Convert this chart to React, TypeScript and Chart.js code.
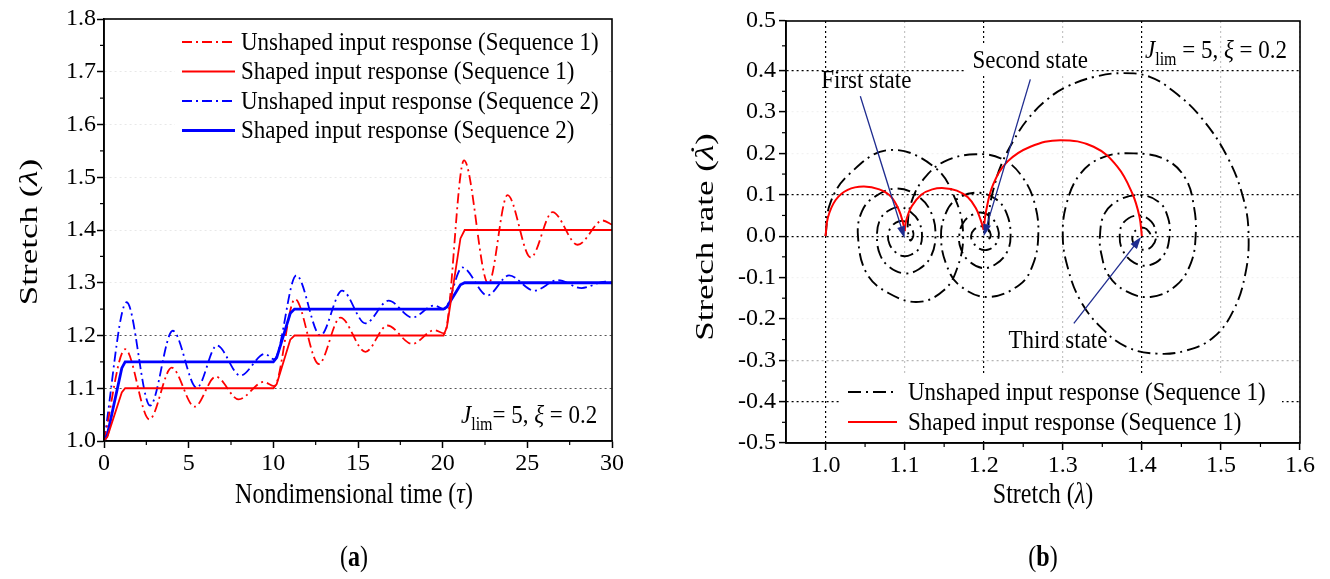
import React, { useEffect, useRef } from "react";
import { Chart, registerables } from "chart.js";

Chart.register(...registerables);

const SERIF = '"Liberation Serif", "Times New Roman", Times, serif';
const RED = "#ff0000";
const BLUE = "#0000ff";
const BLACK = "#000000";
const NAVY = "#1f2c8f";
const DASH_DOT_A = [10, 4, 2, 4];
const DASH_DOT_B = [13, 5, 2, 5];

// ---------------- Panel (a): stretch vs nondimensional time ----------------
const tauTicks = [0, 5, 10, 15, 20, 25, 30];
const stretchTicksA = [1.0, 1.1, 1.2, 1.3, 1.4, 1.5, 1.6, 1.7, 1.8];

const tauUnshaped1 = [0, 1.25, 2.68, 4.0, 5.35, 6.6, 7.95, 9.43, 10.05, 11.28, 12.68, 13.96, 15.44, 16.73, 18.2, 19.5, 20.1, 21.26, 22.7, 23.83, 25.2, 26.49, 27.97, 29.45, 30];
const stretchUnshaped1 = [1.0, 1.174, 1.041, 1.139, 1.065, 1.122, 1.079, 1.112, 1.104, 1.269, 1.146, 1.234, 1.169, 1.219, 1.184, 1.21, 1.204, 1.532, 1.298, 1.466, 1.348, 1.434, 1.372, 1.418, 1.41];

const tauUnshaped2 = [0, 1.34, 2.72, 4.06, 5.48, 6.67, 8.05, 9.5, 10.05, 11.36, 12.78, 14.06, 15.44, 16.8, 18.2, 19.5, 20.08, 21.16, 22.64, 23.92, 25.4, 26.8, 28.2, 29.6, 30];
const stretchUnshaped2 = [1.0, 1.263, 1.067, 1.209, 1.101, 1.181, 1.124, 1.165, 1.155, 1.314, 1.2, 1.285, 1.223, 1.266, 1.234, 1.257, 1.25, 1.329, 1.276, 1.314, 1.285, 1.305, 1.29, 1.302, 1.3];

const tauShaped = [0, 0.2, 1.05, 1.25, 10.0, 10.2, 11.0, 11.25, 20.05, 20.25, 21.05, 21.3, 30];
const stretchShaped1 = [1.0, 1.008, 1.092, 1.1, 1.1, 1.108, 1.192, 1.2, 1.2, 1.216, 1.384, 1.4, 1.4];
const stretchShaped2 = [1.0, 1.012, 1.138, 1.15, 1.15, 1.158, 1.242, 1.25, 1.25, 1.254, 1.296, 1.3, 1.3];

// ---------------- Panel (b): phase portrait (stretch, stretch rate) ----------------
const stretchTicksB = [1.0, 1.1, 1.2, 1.3, 1.4, 1.5, 1.6];
const rateTickValues = [-0.5, -0.4, -0.3, -0.2, -0.1, 0.0, 0.1, 0.2, 0.3, 0.4, 0.52];
const rateTickLabels = ["-0.5", "-0.4", "-0.3", "-0.2", "-0.1", "0.0", "0.1", "0.2", "0.3", "0.4", "0.5"];

const phaseUnshaped: [number, number][] = [
  [1.0, 0.0], [1.006, 0.08], [1.03, 0.15], [1.08, 0.208], [1.137, 0.168], [1.165, 0.085], [1.174, 0.0],
  [1.166, -0.08], [1.15, -0.13], [1.118, -0.159], [1.08, -0.138], [1.052, -0.09], [1.041, 0.0],
  [1.046, 0.06], [1.062, 0.095], [1.09, 0.115], [1.118, 0.095], [1.134, 0.055], [1.139, 0.0],
  [1.133, -0.05], [1.118, -0.08], [1.1, -0.09], [1.081, -0.075], [1.069, -0.045], [1.065, 0.0],
  [1.069, 0.04], [1.08, 0.062], [1.094, 0.07], [1.108, 0.058], [1.118, 0.035], [1.122, 0.0],
  [1.118, -0.03], [1.108, -0.045], [1.098, -0.048], [1.088, -0.038], [1.081, -0.02], [1.079, 0.0],
  [1.083, 0.022], [1.093, 0.036], [1.104, 0.032], [1.11, 0.015], [1.111, 0.0], [1.107, -0.01],
  [1.104, 0.03], [1.11, 0.09], [1.125, 0.14], [1.15, 0.18], [1.19, 0.198], [1.225, 0.185], [1.25, 0.14], [1.265, 0.075], [1.269, 0.0],
  [1.262, -0.07], [1.245, -0.118], [1.205, -0.147], [1.17, -0.12], [1.153, -0.07], [1.146, 0.0],
  [1.152, 0.055], [1.165, 0.088], [1.19, 0.105], [1.215, 0.09], [1.229, 0.055], [1.234, 0.0],
  [1.229, -0.04], [1.215, -0.068], [1.198, -0.077], [1.18, -0.058], [1.171, -0.03], [1.169, 0.0],
  [1.174, 0.032], [1.186, 0.052], [1.2, 0.056], [1.212, 0.04], [1.218, 0.018], [1.219, 0.0],
  [1.215, -0.02], [1.205, -0.033], [1.194, -0.03], [1.187, -0.016], [1.184, 0.0],
  [1.188, 0.016], [1.198, 0.024], [1.206, 0.016], [1.209, 0.003], [1.207, -0.005],
  [1.207, 0.06], [1.214, 0.125], [1.223, 0.176], [1.238, 0.232], [1.255, 0.281], [1.28, 0.33], [1.306, 0.362], [1.34, 0.385], [1.377, 0.394],
  [1.41, 0.385], [1.44, 0.35], [1.474, 0.289], [1.508, 0.192], [1.529, 0.087], [1.535, 0.0], [1.531, -0.09], [1.516, -0.179],
  [1.491, -0.244], [1.457, -0.276], [1.419, -0.284], [1.381, -0.268], [1.348, -0.22], [1.322, -0.155], [1.306, -0.074], [1.3, 0.0],
  [1.305, 0.08], [1.322, 0.15], [1.35, 0.19], [1.39, 0.2], [1.43, 0.185], [1.455, 0.14], [1.466, 0.07], [1.468, 0.0],
  [1.462, -0.065], [1.443, -0.12], [1.411, -0.147], [1.38, -0.133], [1.358, -0.095], [1.349, -0.045], [1.347, 0.0],
  [1.353, 0.055], [1.372, 0.088], [1.398, 0.099], [1.422, 0.082], [1.433, 0.045], [1.435, 0.0],
  [1.428, -0.045], [1.41, -0.07], [1.39, -0.064], [1.376, -0.035], [1.372, 0.0],
  [1.377, 0.033], [1.395, 0.05], [1.412, 0.035], [1.418, 0.0],
  [1.413, -0.024], [1.402, -0.033], [1.391, -0.022], [1.388, 0.0],
  [1.393, 0.015], [1.403, 0.02], [1.41, 0.008], [1.411, 0.0],
];

const phaseShapedArc1: [number, number][] = [
  [1.0, 0.0], [1.003, 0.045], [1.013, 0.088], [1.028, 0.112], [1.048, 0.12], [1.068, 0.113], [1.083, 0.095], [1.093, 0.062], [1.098, 0.032], [1.1, 0.012],
];
const phaseShapedArc2: [number, number][] = [
  [1.1, 0.012], [1.102, 0.038], [1.109, 0.072], [1.121, 0.1], [1.135, 0.113], [1.15, 0.116], [1.166, 0.11], [1.18, 0.094], [1.19, 0.068], [1.196, 0.04], [1.2, 0.015],
];
const phaseShapedArc3: [number, number][] = [
  [1.2, 0.015], [1.203, 0.06], [1.212, 0.125], [1.23, 0.18], [1.259, 0.216], [1.297, 0.232], [1.339, 0.216], [1.369, 0.168], [1.388, 0.103], [1.397, 0.047], [1.4, 0.0],
];

// Annotation arrows (tail -> head) in data coordinates
const stateArrows: { from: [number, number]; to: [number, number] }[] = [
  { from: [1.044, 0.338], to: [1.1, -0.005] },
  { from: [1.259, 0.379], to: [1.2, 0.0] },
  { from: [1.314, -0.211], to: [1.399, -0.002] },
];
const stateLabels: { text: string; at: [number, number] }[] = [
  { text: "First state", at: [0.9946, 0.359] },
  { text: "Second state", at: [1.1857, 0.407] },
  { text: "Third state", at: [1.2313, -0.27] },
];

// ---------------- helpers ----------------
const zip = (xs: number[], ys: number[]) => xs.map((x, i) => ({ x, y: ys[i] }));
const pts = (list: [number, number][]) => list.map(([x, y]) => ({ x, y }));
const near = (a: number, b: number) => Math.abs(a - b) < 1e-6;

type Seg = { t: string; italic?: boolean; bold?: boolean; sub?: boolean; dot?: boolean };

function drawRich(
  ctx: CanvasRenderingContext2D,
  segs: Seg[],
  x: number,
  y: number,
  size: number,
  align: "left" | "center",
  rotate = 0,
  sx = 1,
  sy = 1
) {
  ctx.save();
  ctx.translate(x, y);
  if (rotate) ctx.rotate(rotate);
  ctx.scale(sx, sy);
  ctx.textBaseline = "alphabetic";
  ctx.textAlign = "left";
  ctx.fillStyle = "#000";
  const font = (s: Seg) => `${s.italic ? "italic " : ""}${s.bold ? "bold " : ""}${s.sub ? Math.round(size * 0.68) : size}px ${SERIF}`;
  const widths = segs.map((s) => {
    ctx.font = font(s);
    return ctx.measureText(s.t).width;
  });
  const total = widths.reduce((a, b) => a + b, 0);
  let cx = align === "center" ? -total / 2 : 0;
  segs.forEach((s, i) => {
    ctx.font = font(s);
    ctx.fillText(s.t, cx, s.sub ? size * 0.28 : 0);
    if (s.dot) {
      ctx.font = `${size}px ${SERIF}`;
      ctx.textAlign = "center";
      ctx.fillText("\u02D9", cx + widths[i] / 2 + size * 0.08, -size * 0.2);
      ctx.textAlign = "left";
    }
    cx += widths[i];
  });
  ctx.restore();
}

function drawText(ctx: CanvasRenderingContext2D, text: string, x: number, y: number, size: number, baseline: CanvasTextBaseline, sy = 1) {
  ctx.save();
  ctx.translate(x, y);
  ctx.scale(1, sy);
  ctx.fillStyle = "#000";
  ctx.font = `${size}px ${SERIF}`;
  ctx.textBaseline = baseline;
  ctx.textAlign = "left";
  ctx.fillText(text, 0, 0);
  ctx.restore();
}

function drawFrame(ctx: CanvasRenderingContext2D, a: any) {
  ctx.save();
  ctx.strokeStyle = "#000";
  ctx.lineWidth = 1.6;
  ctx.strokeRect(a.left, a.top, a.right - a.left, a.bottom - a.top);
  ctx.restore();
}

function drawMinorTicks(ctx: CanvasRenderingContext2D, xs: any, ys: any, a: any) {
  const mids = (ticks: any[]) => ticks.slice(1).map((t: any, i: number) => (t.value + ticks[i].value) / 2);
  ctx.save();
  ctx.strokeStyle = "#000";
  ctx.lineWidth = 1.2;
  mids(xs.ticks).forEach((v: number) => {
    const p = xs.getPixelForValue(v);
    ctx.beginPath();
    ctx.moveTo(p, a.bottom);
    ctx.lineTo(p, a.bottom + 4);
    ctx.stroke();
  });
  mids(ys.ticks).forEach((v: number) => {
    const p = ys.getPixelForValue(v);
    ctx.beginPath();
    ctx.moveTo(a.left, p);
    ctx.lineTo(a.left - 4, p);
    ctx.stroke();
  });
  ctx.restore();
}

function drawLegend(ctx: CanvasRenderingContext2D, chart: any, rows: { index: number; y: number; x1: number; x2: number; tx: number }[]) {
  rows.forEach((r) => {
    const ds = chart.data.datasets[r.index];
    ctx.save();
    ctx.strokeStyle = ds.borderColor;
    ctx.lineWidth = ds.borderWidth;
    ctx.setLineDash(ds.borderDash || []);
    ctx.beginPath();
    ctx.moveTo(r.x1, r.y);
    ctx.lineTo(r.x2, r.y);
    ctx.stroke();
    ctx.restore();
    drawText(ctx, ds.label, r.tx, r.y + 1, 23, "middle", 1.12);
  });
}

function drawArrow(ctx: CanvasRenderingContext2D, x1: number, y1: number, x2: number, y2: number) {
  const ang = Math.atan2(y2 - y1, x2 - x1);
  const L = 12;
  const W = 4;
  const c = Math.cos(ang);
  const s = Math.sin(ang);
  ctx.save();
  ctx.strokeStyle = NAVY;
  ctx.fillStyle = NAVY;
  ctx.lineWidth = 1.3;
  ctx.beginPath();
  ctx.moveTo(x1, y1);
  ctx.lineTo(x2 - L * 0.8 * c, y2 - L * 0.8 * s);
  ctx.stroke();
  ctx.beginPath();
  ctx.moveTo(x2, y2);
  ctx.lineTo(x2 - L * c + W * s, y2 - L * s - W * c);
  ctx.lineTo(x2 - L * c - W * s, y2 - L * s + W * c);
  ctx.closePath();
  ctx.fill();
  ctx.restore();
}

const tickFont = { family: SERIF, size: 24 };

// ---------------- plugins ----------------
const legendRowsA = [
  { index: 2, y: 42, x1: 182, x2: 235, tx: 241 },
  { index: 0, y: 71.5, x1: 182, x2: 235, tx: 241 },
  { index: 3, y: 101, x1: 182, x2: 235, tx: 241 },
  { index: 1, y: 130.5, x1: 182, x2: 235, tx: 241 },
];

const panelAPlugin = {
  id: "panelA",
  beforeDatasetsDraw(chart: any) {
    const ctx = chart.ctx;
    ctx.save();
    ctx.fillStyle = "#fff";
    ctx.fillRect(175, 26, 432, 118);
    ctx.restore();
  },
  afterDatasetsDraw(chart: any) {
    const { ctx, chartArea: a, scales } = chart;
    drawFrame(ctx, a);
    drawMinorTicks(ctx, scales.x, scales.y, a);
    drawLegend(ctx, chart, legendRowsA);
    drawRich(ctx, [{ t: "J", italic: true }, { t: "lim", sub: true }, { t: "= 5, " }, { t: "\u03BE", italic: true }, { t: " = 0.2" }], 461, 423, 23, "left", 0, 1, 1.12);
    drawRich(ctx, [{ t: "Stretch (" }, { t: "\u03BB", italic: true }, { t: ")" }], 37, 232, 25, "center", -Math.PI / 2, 1.4, 1);
    drawRich(ctx, [{ t: "Nondimensional time (" }, { t: "\u03C4", italic: true }, { t: ")" }], 354, 503, 24, "center", 0, 1, 1.25);
    drawRich(ctx, [{ t: "(" }, { t: "a", bold: true }, { t: ")" }], 354, 566, 24, "center", 0, 1, 1.25);
  },
};

const OFF_B = 660;
const legendRowsB = [
  { index: 3, y: 392, x1: 848 - OFF_B, x2: 897 - OFF_B, tx: 908 - OFF_B },
  { index: 0, y: 422, x1: 848 - OFF_B, x2: 897 - OFF_B, tx: 908 - OFF_B },
];

const panelBPlugin = {
  id: "panelB",
  beforeDatasetsDraw(chart: any) {
    const ctx = chart.ctx;
    ctx.save();
    ctx.fillStyle = "#fff";
    ctx.fillRect(840 - OFF_B, 373, 442, 68);
    ctx.fillRect(966 - OFF_B, 46, 126, 29);
    ctx.restore();
  },
  afterDatasetsDraw(chart: any) {
    const { ctx, chartArea: a, scales } = chart;
    const xs = scales.x;
    const ys = scales.y;
    drawFrame(ctx, a);
    drawMinorTicks(ctx, xs, ys, a);
    stateArrows.forEach((ar) => {
      drawArrow(ctx, xs.getPixelForValue(ar.from[0]), ys.getPixelForValue(ar.from[1]), xs.getPixelForValue(ar.to[0]), ys.getPixelForValue(ar.to[1]));
    });
    stateLabels.forEach((l) => drawText(ctx, l.text, xs.getPixelForValue(l.at[0]), ys.getPixelForValue(l.at[1]), 23, "alphabetic", 1.12));
    drawRich(ctx, [{ t: "J", italic: true }, { t: "lim", sub: true }, { t: " = 5, " }, { t: "\u03BE", italic: true }, { t: " = 0.2" }], 1145 - OFF_B, 58, 23, "left", 0, 1, 1.12);
    drawLegend(ctx, chart, legendRowsB);
    drawRich(ctx, [{ t: "Stretch rate (" }, { t: "\u03BB", italic: true, dot: true }, { t: ")" }], 713 - OFF_B, 237, 25, "center", -Math.PI / 2, 1.4, 1);
    drawRich(ctx, [{ t: "Stretch (" }, { t: "\u03BB", italic: true }, { t: ")" }], 1043 - OFF_B, 503, 24, "center", 0, 1, 1.25);
    drawRich(ctx, [{ t: "(" }, { t: "b", bold: true }, { t: ")" }], 1043 - OFF_B, 566, 24, "center", 0, 1, 1.25);
  },
};

// ---------------- configs ----------------
function configA(): any {
  return {
    type: "line",
    data: {
      datasets: [
        { label: "Shaped input response (Sequence 1)", data: zip(tauShaped, stretchShaped1), borderColor: RED, borderWidth: 1.8, tension: 0, pointRadius: 0 },
        { label: "Shaped input response (Sequence 2)", data: zip(tauShaped, stretchShaped2), borderColor: BLUE, borderWidth: 2.8, tension: 0, pointRadius: 0 },
        { label: "Unshaped input response (Sequence 1)", data: zip(tauUnshaped1, stretchUnshaped1), borderColor: RED, borderWidth: 1.8, borderDash: DASH_DOT_A, cubicInterpolationMode: "monotone", pointRadius: 0 },
        { label: "Unshaped input response (Sequence 2)", data: zip(tauUnshaped2, stretchUnshaped2), borderColor: BLUE, borderWidth: 1.8, borderDash: DASH_DOT_A, cubicInterpolationMode: "monotone", pointRadius: 0 },
      ],
    },
    options: {
      animation: false,
      responsive: false,
      events: [],
      layout: { padding: { left: 0, right: 48, top: 19, bottom: 0 } },
      plugins: { legend: { display: false }, tooltip: { enabled: false } },
      scales: {
        x: {
          type: "linear",
          min: 0,
          max: 30,
          afterBuildTicks: (s: any) => { s.ticks = tauTicks.map((v) => ({ value: v })); },
          afterFit: (s: any) => { s.height = 138; },
          grid: { drawOnChartArea: false, drawTicks: true, tickLength: 7, tickColor: "#000", tickWidth: 1.5 },
          border: { color: "#000", width: 1.6 },
          ticks: { font: tickFont, color: "#000", padding: 1, maxRotation: 0, autoSkip: false, callback: (v: any) => String(v) },
        },
        y: {
          type: "linear",
          min: 1.0,
          max: 1.8,
          afterBuildTicks: (s: any) => { s.ticks = stretchTicksA.map((v) => ({ value: v })); },
          afterFit: (s: any) => { s.width = 104; },
          grid: {
            color: (c: any) => {
              const v = c.tick ? c.tick.value : 0;
              return near(v, 1.1) || near(v, 1.2) ? "#555555" : "rgba(0,0,0,0.09)";
            },
            lineWidth: 1,
            tickLength: 7,
            tickColor: "#000",
            tickWidth: 1.5,
          },
          border: { color: "#000", width: 1.6, dash: [2, 3] },
          ticks: { font: tickFont, color: "#000", padding: 1, autoSkip: false, callback: (v: any) => Number(v).toFixed(1) },
        },
      },
    },
    plugins: [panelAPlugin],
  };
}

function configB(): any {
  const phaseStyle = { pointRadius: 0, tension: 0.4 };
  return {
    type: "line",
    data: {
      datasets: [
        { label: "Shaped input response (Sequence 1)", data: pts(phaseShapedArc1), borderColor: RED, borderWidth: 2, ...phaseStyle },
        { label: "Shaped input response (Sequence 1)", data: pts(phaseShapedArc2), borderColor: RED, borderWidth: 2, ...phaseStyle },
        { label: "Shaped input response (Sequence 1)", data: pts(phaseShapedArc3), borderColor: RED, borderWidth: 2, ...phaseStyle },
        { label: "Unshaped input response (Sequence 1)", data: pts(phaseUnshaped), borderColor: BLACK, borderWidth: 1.9, borderDash: DASH_DOT_B, ...phaseStyle },
      ],
    },
    options: {
      animation: false,
      responsive: false,
      events: [],
      layout: { padding: { left: 0, right: 30, top: 21, bottom: 0 } },
      plugins: { legend: { display: false }, tooltip: { enabled: false } },
      scales: {
        x: {
          type: "linear",
          min: 0.95,
          max: 1.6,
          afterBuildTicks: (s: any) => { s.ticks = stretchTicksB.map((v) => ({ value: v })); },
          afterFit: (s: any) => { s.height = 136; },
          grid: {
            color: (c: any) => {
              const v = c.tick ? c.tick.value : 0;
              return near(v, 1.0) || near(v, 1.2) || near(v, 1.4) ? "#000000" : "#c4c4c4";
            },
            lineWidth: 1.2,
            tickLength: 7,
            tickColor: "#000",
            tickWidth: 1.5,
          },
          border: { color: "#000", width: 1.6, dash: [2, 3] },
          ticks: { font: tickFont, color: "#000", padding: 1, maxRotation: 0, autoSkip: false, callback: (v: any) => Number(v).toFixed(1) },
        },
        y: {
          type: "linear",
          min: -0.5,
          max: 0.52,
          afterBuildTicks: (s: any) => { s.ticks = rateTickValues.map((v) => ({ value: v })); },
          afterFit: (s: any) => { s.width = 126; },
          grid: {
            color: (c: any) => {
              const v = c.tick ? c.tick.value : 0;
              if (near(v, 0.4) || near(v, 0.1) || near(v, 0.0) || near(v, -0.4)) return "#000000";
              if (near(v, -0.3)) return "#b5b5b5";
              return "rgba(0,0,0,0.05)";
            },
            lineWidth: 1.2,
            tickLength: 7,
            tickColor: "#000",
            tickWidth: 1.5,
          },
          border: { color: "#000", width: 1.6, dash: [2, 3] },
          ticks: { font: tickFont, color: "#000", padding: 3, autoSkip: false, callback: (_v: any, i: number) => rateTickLabels[i] },
        },
      },
    },
    plugins: [panelBPlugin],
  };
}

export default function App() {
  const refA = useRef<HTMLCanvasElement>(null);
  const refB = useRef<HTMLCanvasElement>(null);
  useEffect(() => {
    const a = new Chart(refA.current as HTMLCanvasElement, configA());
    const b = new Chart(refB.current as HTMLCanvasElement, configB());
    return () => {
      a.destroy();
      b.destroy();
    };
  }, []);
  return (
    <div style={{ position: "fixed", left: 0, top: 0, width: 1330, height: 579, background: "#fff" }}>
      <canvas ref={refA} width={660} height={579} style={{ position: "absolute", left: 0, top: 0 }} />
      <canvas ref={refB} width={670} height={579} style={{ position: "absolute", left: 660, top: 0 }} />
    </div>
  );
}
